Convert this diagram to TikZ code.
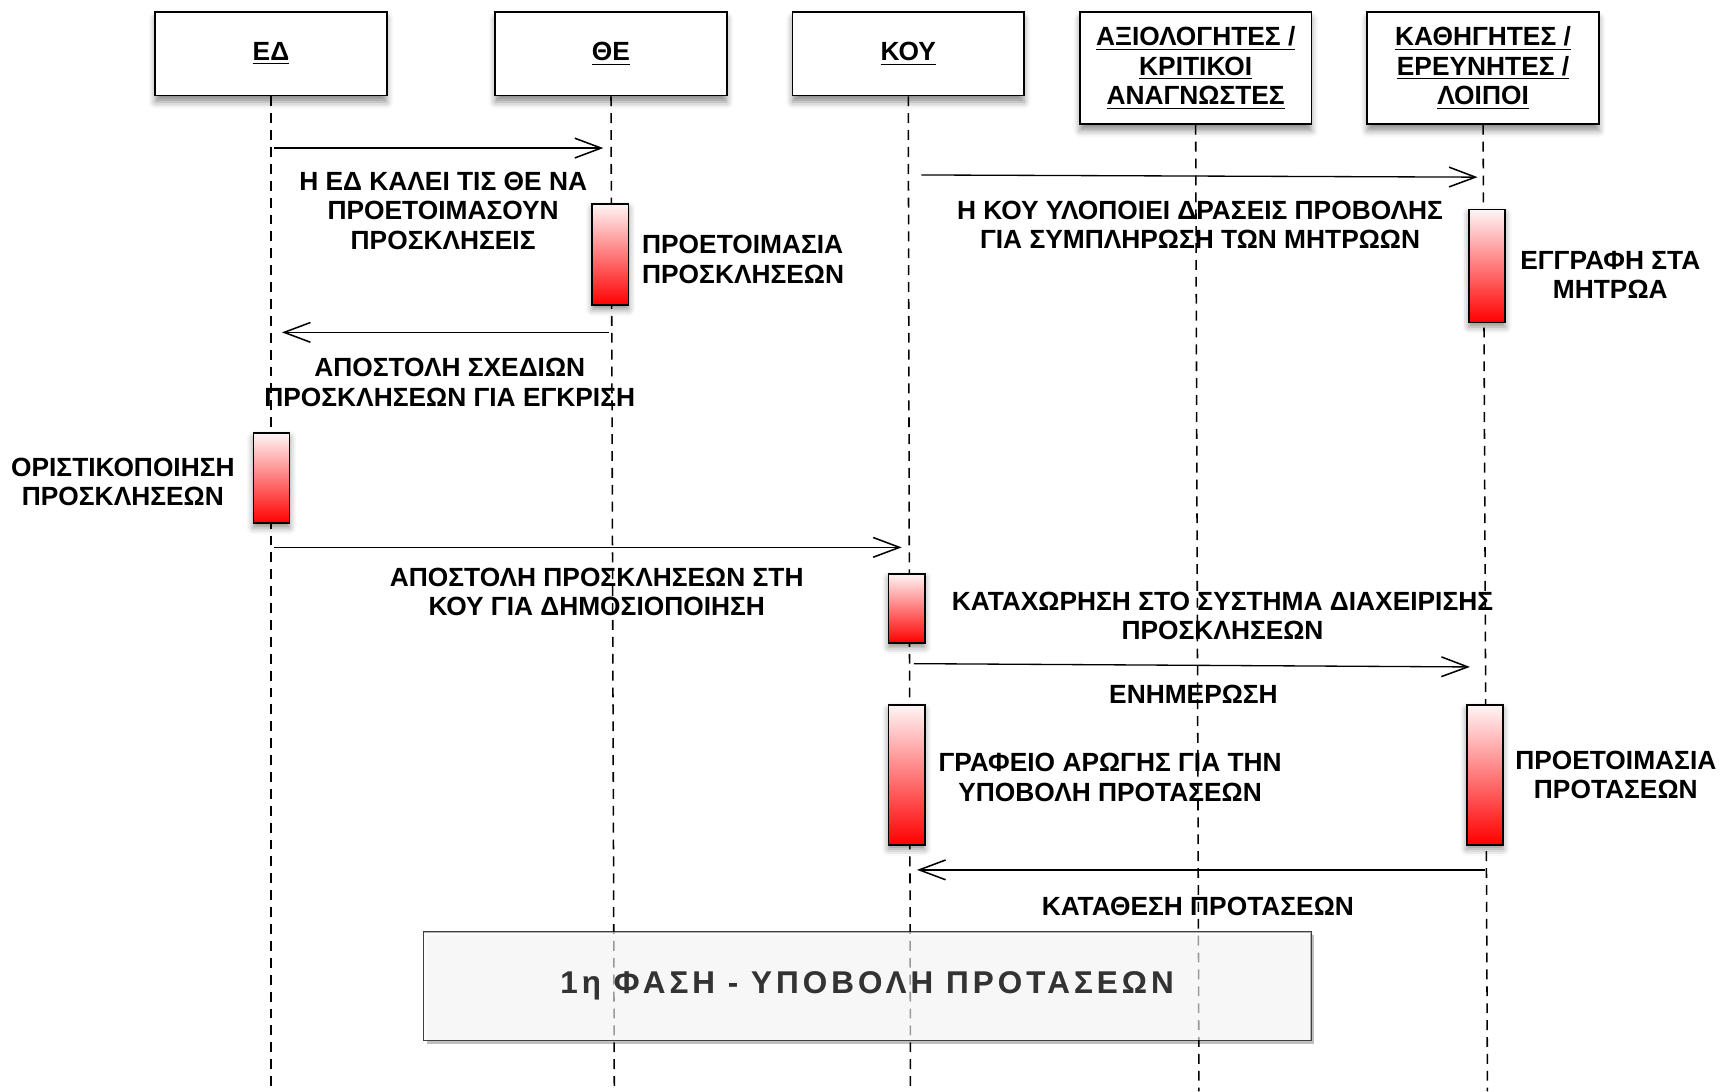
\documentclass[tikz,border=0pt]{standalone}
\usepackage{fontspec}
\setmainfont{Liberation Sans}
\usetikzlibrary{arrows.meta,shadows.blur,shadows}
\begin{document}
\begin{tikzpicture}[x=0.5pt,y=-0.5pt,
  every node/.style={font=\fontsize{12}{13.5}\selectfont\bfseries},
  actor/.style={draw=black,line width=0.8pt,fill=white,minimum width=105.5pt,inner sep=2pt,align=center,
    blur shadow={shadow xshift=0pt,shadow yshift=-3pt,shadow blur radius=3pt,shadow opacity=45}},
  life/.style={line width=0.7pt,dash pattern=on 4.5pt off 3.2pt},
  act/.style={draw=black,line width=0.8pt,top color=red!4,bottom color=red,minimum width=16.5pt,inner sep=0pt,
    blur shadow={shadow xshift=0pt,shadow yshift=-2pt,shadow blur radius=3pt,shadow opacity=45}},
  msg/.style={line width=0.6pt,-{Straight Barb[length=12pt,width=9pt,line width=0.7pt]}},
  lbl/.style={align=center,inner sep=0pt},
  phase/.style={draw=black!75,line width=0.8pt,fill=gray!5,fill opacity=0.8,text opacity=1,
    minimum width=404.5pt,minimum height=49.5pt,inner sep=0pt,
    drop shadow={shadow xshift=1.5pt,shadow yshift=-1.5pt,opacity=0.25,fill=black}},
]
\useasboundingbox (0,0) rectangle (1568,995);
% actors
\node[actor,minimum height=38pt] (ed)  at (247,49)   {\underline{ΕΔ}};
\node[actor,minimum height=38pt] (the) at (557,49)   {\underline{ΘΕ}};
\node[actor,minimum height=38pt] (kou) at (828,49)   {\underline{ΚΟΥ}};
\node[actor,minimum height=51pt] (axi) at (1090,62)  {\underline{ΑΞΙΟΛΟΓΗΤΕΣ /}\\\underline{ΚΡΙΤΙΚΟΙ}\\\underline{ΑΝΑΓΝΩΣΤΕΣ}};
\node[actor,minimum height=51pt] (kath) at (1352,62) {\underline{ΚΑΘΗΓΗΤΕΣ /}\\\underline{ΕΡΕΥΝΗΤΕΣ /}\\\underline{ΛΟΙΠΟΙ}};
% lifeline ends
\coordinate (edB) at (247,995);
\coordinate (theB) at (560,995);
\coordinate (kouB) at (830,995);
\coordinate (axiB) at (1093,995);
\coordinate (kathB) at (1356,995);
% phase box (drawn before the lifelines so they show through it)
\node[phase,font=\fontsize{14.3}{16}\selectfont\bfseries\addfontfeature{LetterSpace=13},text=black!80] (ph) at (790.5,899) {1η ΦΑΣΗ - ΥΠΟΒΟΛΗ ΠΡΟΤΑΣΕΩΝ};
\draw[life] (ed.south) -- (edB);
\draw[life] (the.south) -- (theB);
\draw[life] (kou.south) -- (kouB);
\draw[life] (axi.south) -- (axiB);
\draw[life] (kath.south) -- (kathB);
% veil over the lifelines inside the phase box
\fill[white,opacity=0.6] ([xshift=0.5pt,yshift=-0.5pt]ph.north west) rectangle ([xshift=-0.5pt,yshift=0.5pt]ph.south east);
\node[inner sep=0pt,font=\fontsize{14.3}{16}\selectfont\bfseries\addfontfeature{LetterSpace=13},text=black!80] (phT) at (ph.center) {1η ΦΑΣΗ - ΥΠΟΒΟΛΗ ΠΡΟΤΑΣΕΩΝ};
% activations
\node[act,minimum height=46pt]   (aThe)   at (556.5,232)   {};
\node[act,minimum height=41pt]   (aEd)    at (247.5,436)   {};
\node[act,minimum height=51.5pt] (aKath1) at (1355.5,242.5) {};
\node[act,minimum height=31.5pt] (aKou1)  at (826.5,554.5) {};
\node[act,minimum height=63.5pt] (aKou2)  at (826.5,706.5) {};
\node[act,minimum height=63.5pt] (aKath2) at (1353.5,706.5) {};
% message end points
\coordinate (m1a) at (250,135);  \coordinate (m1b) at (550,135);
\coordinate (m2a) at (555,303);  \coordinate (m2b) at (257,303);
\coordinate (m3a) at (250,499);  \coordinate (m3b) at (822,499);
\coordinate (m4a) at (840,159.5); \coordinate (m4b) at (1347,161.5);
\coordinate (m5a) at (833,605);  \coordinate (m5b) at (1340,608);
\coordinate (m6a) at (1354,793); \coordinate (m6b) at (836,793);
\draw[msg] (m1a) -- (m1b);
\draw[msg] (m2a) -- (m2b);
\draw[msg] (m3a) -- (m3b);
\draw[msg] (m4a) -- (m4b);
\draw[msg] (m5a) -- (m5b);
\draw[msg] (m6a) -- (m6b);
% labels
\node[lbl] (l1) at (404,192) {Η ΕΔ ΚΑΛΕΙ ΤΙΣ ΘΕ ΝΑ\\ΠΡΟΕΤΟΙΜΑΣΟΥΝ\\ΠΡΟΣΚΛΗΣΕΙΣ};
\node[lbl,align=left,anchor=west] (lThe) at (585,236.5) {ΠΡΟΕΤΟΙΜΑΣΙΑ\\ΠΡΟΣΚΛΗΣΕΩΝ};
\node[lbl] (l2) at (410,348.5) {ΑΠΟΣΤΟΛΗ ΣΧΕΔΙΩΝ\\ΠΡΟΣΚΛΗΣΕΩΝ ΓΙΑ ΕΓΚΡΙΣΗ};
\node[lbl] (lEd) at (112,439.5) {ΟΡΙΣΤΙΚΟΠΟΙΗΣΗ\\ΠΡΟΣΚΛΗΣΕΩΝ};
\node[lbl] (l3) at (544,539.5) {ΑΠΟΣΤΟΛΗ ΠΡΟΣΚΛΗΣΕΩΝ ΣΤΗ\\ΚΟΥ ΓΙΑ ΔΗΜΟΣΙΟΠΟΙΗΣΗ};
\node[lbl] (l4) at (1094,205) {Η ΚΟΥ ΥΛΟΠΟΙΕΙ ΔΡΑΣΕΙΣ ΠΡΟΒΟΛΗΣ\\ΓΙΑ ΣΥΜΠΛΗΡΩΣΗ ΤΩΝ ΜΗΤΡΩΩΝ};
\node[lbl] (lKath1) at (1468,250.5) {ΕΓΓΡΑΦΗ ΣΤΑ\\ΜΗΤΡΩΑ};
\node[lbl] (lKou1) at (1114.5,561.5) {ΚΑΤΑΧΩΡΗΣΗ ΣΤΟ ΣΥΣΤΗΜΑ ΔΙΑΧΕΙΡΙΣΗΣ\\ΠΡΟΣΚΛΗΣΕΩΝ};
\node[lbl] (l5) at (1088,633) {ΕΝΗΜΕΡΩΣΗ};
\node[lbl] (lKou2) at (1012,708.5) {ΓΡΑΦΕΙΟ ΑΡΩΓΗΣ ΓΙΑ ΤΗΝ\\ΥΠΟΒΟΛΗ ΠΡΟΤΑΣΕΩΝ};
\node[lbl] (lKath2) at (1473,706.5) {ΠΡΟΕΤΟΙΜΑΣΙΑ\\ΠΡΟΤΑΣΕΩΝ};
\node[lbl] (l6) at (1092,826) {ΚΑΤΑΘΕΣΗ ΠΡΟΤΑΣΕΩΝ};
\end{tikzpicture}
\end{document}
